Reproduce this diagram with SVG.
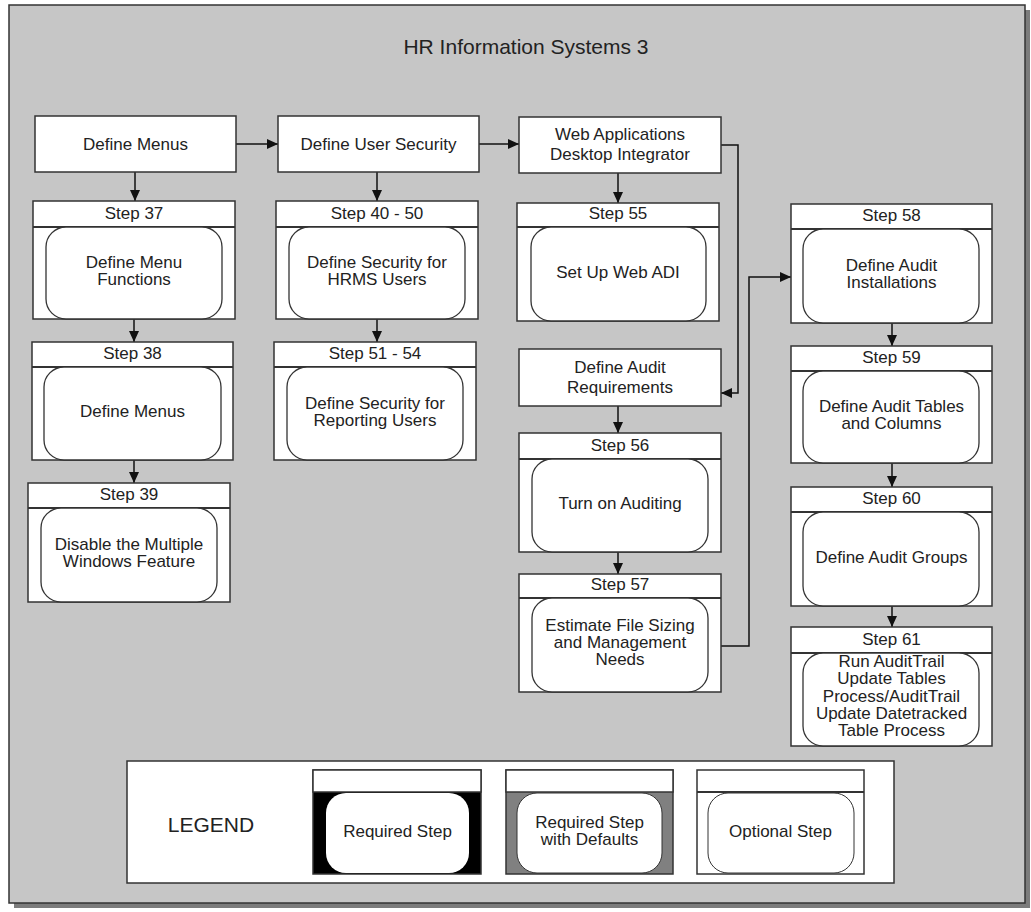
<svg xmlns="http://www.w3.org/2000/svg" width="1031" height="912" viewBox="0 0 1031 912">
<defs>
<style>
text{font-family:"Liberation Sans",Arial,sans-serif;fill:#222;text-anchor:middle;font-size:17px}
.box{fill:#fff;stroke:#333;stroke-width:1.5}
.inner{fill:#fff;stroke:#333;stroke-width:1.3}
.hdr{stroke:#333;stroke-width:2}
.con{fill:none;stroke:#111;stroke-width:1.5}
.title{font-size:21px}
</style>
<marker id="arr" markerUnits="userSpaceOnUse" markerWidth="12" markerHeight="10" refX="11" refY="5" orient="auto">
<path d="M0,0 L11,5 L0,10 Z" fill="#111"/>
</marker>
</defs>
<rect x="0" y="0" width="1031" height="912" fill="#fff"/>
<rect x="14" y="10" width="1016" height="898" fill="#7c7c7c"/>
<rect x="9" y="5" width="1016" height="898" fill="#c6c6c6" stroke="#333" stroke-width="1.5"/>
<text class="title" x="526" y="54">HR Information Systems 3</text>

<g id="connectors">
<path class="con" d="M236,144 H278" marker-end="url(#arr)"/>
<path class="con" d="M479,144 H519" marker-end="url(#arr)"/>
<path class="con" d="M135,172 V201" marker-end="url(#arr)"/>
<path class="con" d="M377,172 V201" marker-end="url(#arr)"/>
<path class="con" d="M134,319 V342" marker-end="url(#arr)"/>
<path class="con" d="M134,460 V483" marker-end="url(#arr)"/>
<path class="con" d="M377,319 V342" marker-end="url(#arr)"/>
<path class="con" d="M618,173 V203" marker-end="url(#arr)"/>
<path class="con" d="M721,145 H738 V393 H721" marker-end="url(#arr)"/>
<path class="con" d="M618,406 V433" marker-end="url(#arr)"/>
<path class="con" d="M618,552 V574" marker-end="url(#arr)"/>
<path class="con" d="M721,646 H749 V277 H791" marker-end="url(#arr)"/>
<path class="con" d="M892,323 V346" marker-end="url(#arr)"/>
<path class="con" d="M892,463 V487" marker-end="url(#arr)"/>
<path class="con" d="M892,606 V627" marker-end="url(#arr)"/>
</g>

<g id="define-menus">
<rect class="box" x="35" y="116" width="201" height="56"/>
<text x="135.5" y="150">Define Menus</text>
</g>
<g id="define-user-security">
<rect class="box" x="278" y="116" width="201" height="56"/>
<text x="378.5" y="150">Define User Security</text>
</g>
<g id="web-adi">
<rect class="box" x="519" y="117" width="202" height="56"/>
<text x="620" y="140">Web Applications</text>
<text x="620" y="160">Desktop Integrator</text>
</g>
<g id="define-audit-req">
<rect class="box" x="519" y="349" width="202" height="57"/>
<text x="620" y="373">Define Audit</text>
<text x="620" y="393">Requirements</text>
</g>

<g id="step37">
<rect class="box" x="33" y="201" width="202" height="118"/>
<line class="hdr" x1="33" y1="227" x2="235" y2="227"/>
<rect class="inner" x="46" y="227" width="176" height="92" rx="20"/>
<text x="134" y="218.5">Step 37</text>
<text x="134" y="268">Define Menu</text>
<text x="134" y="285">Functions</text>
</g>
<g id="step38">
<rect class="box" x="32" y="342" width="201" height="118"/>
<line class="hdr" x1="32" y1="367" x2="233" y2="367"/>
<rect class="inner" x="44" y="367" width="177" height="93" rx="20"/>
<text x="132.5" y="359">Step 38</text>
<text x="132.5" y="417">Define Menus</text>
</g>
<g id="step39">
<rect class="box" x="28" y="483" width="202" height="119"/>
<line class="hdr" x1="28" y1="508" x2="230" y2="508"/>
<rect class="inner" x="41" y="508" width="176" height="94" rx="20"/>
<text x="129" y="500">Step 39</text>
<text x="129" y="550">Disable the Multiple</text>
<text x="129" y="567">Windows Feature</text>
</g>

<g id="step40-50">
<rect class="box" x="276" y="201" width="202" height="118"/>
<line class="hdr" x1="276" y1="227" x2="478" y2="227"/>
<rect class="inner" x="289" y="227" width="176" height="92" rx="20"/>
<text x="377" y="218.5">Step 40 - 50</text>
<text x="377" y="268">Define Security for</text>
<text x="377" y="285">HRMS Users</text>
</g>
<g id="step51-54">
<rect class="box" x="274" y="342" width="202" height="118"/>
<line class="hdr" x1="274" y1="367" x2="476" y2="367"/>
<rect class="inner" x="287" y="367" width="176" height="93" rx="20"/>
<text x="375" y="359">Step 51 - 54</text>
<text x="375" y="409">Define Security for</text>
<text x="375" y="426">Reporting Users</text>
</g>

<g id="step55">
<rect class="box" x="517" y="203" width="202" height="118"/>
<line class="hdr" x1="517" y1="227" x2="719" y2="227"/>
<rect class="inner" x="531" y="227" width="175" height="94" rx="20"/>
<text x="618" y="219">Step 55</text>
<text x="618" y="278">Set Up Web ADI</text>
</g>
<g id="step56">
<rect class="box" x="519" y="433" width="202" height="119"/>
<line class="hdr" x1="519" y1="459" x2="721" y2="459"/>
<rect class="inner" x="532" y="459" width="176" height="93" rx="20"/>
<text x="620" y="451">Step 56</text>
<text x="620" y="509">Turn on Auditing</text>
</g>
<g id="step57">
<rect class="box" x="519" y="574" width="202" height="118"/>
<line class="hdr" x1="519" y1="598" x2="721" y2="598"/>
<rect class="inner" x="532" y="598" width="176" height="94" rx="20"/>
<text x="620" y="590">Step 57</text>
<text x="620" y="631">Estimate File Sizing</text>
<text x="620" y="648">and Management</text>
<text x="620" y="665">Needs</text>
</g>

<g id="step58">
<rect class="box" x="791" y="204" width="201" height="119"/>
<line class="hdr" x1="791" y1="229" x2="992" y2="229"/>
<rect class="inner" x="803" y="229" width="176" height="94" rx="20"/>
<text x="891.5" y="221">Step 58</text>
<text x="891.5" y="271">Define Audit</text>
<text x="891.5" y="288">Installations</text>
</g>
<g id="step59">
<rect class="box" x="791" y="346" width="201" height="117"/>
<line class="hdr" x1="791" y1="371" x2="992" y2="371"/>
<rect class="inner" x="803" y="371" width="176" height="92" rx="20"/>
<text x="891.5" y="362.5">Step 59</text>
<text x="891.5" y="412">Define Audit Tables</text>
<text x="891.5" y="429">and Columns</text>
</g>
<g id="step60">
<rect class="box" x="791" y="487" width="201" height="119"/>
<line class="hdr" x1="791" y1="512" x2="992" y2="512"/>
<rect class="inner" x="803" y="512" width="176" height="94" rx="20"/>
<text x="891.5" y="504">Step 60</text>
<text x="891.5" y="563">Define Audit Groups</text>
</g>
<g id="step61">
<rect class="box" x="791" y="627" width="201" height="119"/>
<line class="hdr" x1="791" y1="653" x2="992" y2="653"/>
<rect class="inner" x="803" y="653" width="176" height="93" rx="20"/>
<text x="891.5" y="644.5">Step 61</text>
<text x="891.5" y="667">Run AuditTrail</text>
<text x="891.5" y="684">Update Tables</text>
<text x="891.5" y="701.5">Process/AuditTrail</text>
<text x="891.5" y="719">Update Datetracked</text>
<text x="891.5" y="736">Table Process</text>
</g>

<g id="legend">
<rect x="127" y="761" width="767" height="122" fill="#fff" stroke="#333" stroke-width="1.5"/>
<text x="211" y="832" style="font-size:21px">LEGEND</text>
<g id="legend-required">
<rect x="313" y="770" width="168" height="104" fill="#000" stroke="#333" stroke-width="1.5"/>
<rect x="313" y="770" width="168" height="22" fill="#fff" stroke="#333" stroke-width="1.5"/>
<rect x="326" y="793" width="143" height="80" rx="20" fill="#fff"/>
<text x="397.5" y="837">Required Step</text>
</g>
<g id="legend-defaults">
<rect x="506" y="770" width="167" height="104" fill="#808080" stroke="#333" stroke-width="1.5"/>
<rect x="506" y="770" width="167" height="22" fill="#fff" stroke="#333" stroke-width="1.5"/>
<rect x="517" y="793" width="145" height="80" rx="20" fill="#fff" stroke="#333" stroke-width="1"/>
<text x="589.5" y="828">Required Step</text>
<text x="589.5" y="845">with Defaults</text>
</g>
<g id="legend-optional">
<rect x="697" y="770" width="167" height="104" fill="#fff" stroke="#333" stroke-width="1.5"/>
<line x1="697" y1="792" x2="864" y2="792" stroke="#333" stroke-width="2"/>
<rect x="708" y="793" width="146" height="80" rx="20" fill="#fff" stroke="#333" stroke-width="1"/>
<text x="780.5" y="837">Optional Step</text>
</g>
</g>
</svg>
